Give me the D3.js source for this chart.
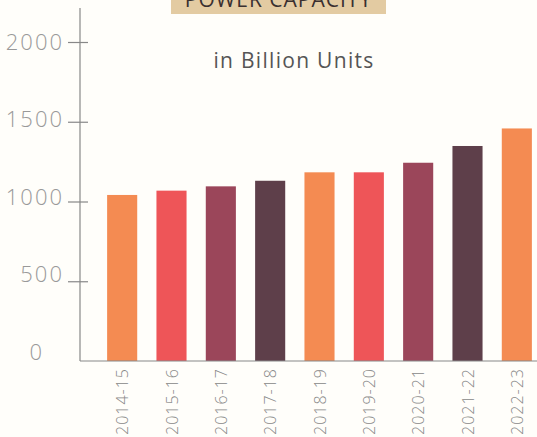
<!DOCTYPE html>
<html><head><meta charset="utf-8">
<script src="https://cdn.jsdelivr.net/npm/d3@7"></script>
<style>
html,body{margin:0;padding:0;background:#fffefa;}
svg{display:block;}
</style></head>
<body>
<svg id="chart" width="537" height="437"></svg>
<script>
const categories = ["2014-15","2015-16","2016-17","2017-18","2018-19","2019-20","2020-21","2021-22","2022-23"];
const values = [1041, 1068, 1095, 1130, 1183, 1183, 1243, 1348, 1458];
const barColors = ["#f48b52","#ee5558","#9b465a","#5e3f4a","#f48b52","#ee5558","#9b465a","#5e3f4a","#f48b52"];
const yTicks = [0, 500, 1000, 1500, 2000];
const titleText = "POWER CAPACITY";
const subtitleText = "in Billion Units";

const svg = d3.select("#chart");
const font = "'Open Sans', Lato, sans-serif";

const x = d3.scaleBand().domain(categories).range([97.5, 541.5]).paddingInner(0.39).paddingOuter(0.195);
const y = d3.scaleLinear().domain([0, 2000]).range([361, 42]);
const yLabel = d3.scaleLinear().domain([0, 2000]).range([352, 42]);

// title box
svg.append("rect").attr("x", 171).attr("y", -10).attr("width", 215).attr("height", 24).attr("fill", "#e3cba2");
svg.append("text").attr("x", 278.5).attr("y", 7).attr("text-anchor", "middle")
  .attr("font-family", font).attr("font-size", 21).attr("letter-spacing", 1).attr("fill", "#3a3030").text(titleText);

svg.append("text").attr("x", 294).attr("y", 68).attr("text-anchor", "middle")
  .attr("font-family", font).attr("font-size", 21).attr("letter-spacing", 1.3).attr("fill", "#555").text(subtitleText);

// bars
svg.append("g").selectAll("rect").data(values).join("rect")
  .attr("x", (d, i) => x(categories[i]))
  .attr("width", x.bandwidth())
  .attr("y", d => y(d))
  .attr("height", d => y(0) - y(d))
  .attr("fill", (d, i) => barColors[i]);

// y axis
const yAxis = svg.append("g").attr("transform", "translate(80,0)")
  .call(d3.axisLeft(y).tickValues(yTicks.filter(t => t > 0)).tickFormat("").tickSizeOuter(0));
yAxis.select(".domain").attr("stroke", "#888").attr("stroke-width", 1.2).attr("d", "M0," + (y(0)) + "V8");
yAxis.selectAll(".tick line").attr("x1", 8).attr("x2", -12).attr("stroke", "#888").attr("stroke-width", 1.2);

// y labels
svg.append("g").selectAll("text").data(yTicks).join("text")
  .attr("x", d => d === 0 ? 44 : 64)
  .attr("y", d => yLabel(d))
  .attr("dy", "0.36em")
  .attr("text-anchor", "end")
  .attr("letter-spacing", 2)
  .attr("font-family", font).attr("font-weight", 300).attr("font-size", 22).attr("fill", "#999")
  .text(d => d);

// x axis
const xAxis = svg.append("g").attr("transform", "translate(0," + y(0) + ")")
  .call(d3.axisBottom(x).tickSize(0).tickSizeOuter(0));
xAxis.select(".domain").attr("stroke", "#888").attr("stroke-width", 1.2).attr("d", "M80,0H537");
xAxis.selectAll(".tick text")
  .attr("transform", "rotate(-90)")
  .attr("text-anchor", "end")
  .attr("x", -7).attr("y", 0).attr("dy", "0.38em").attr("dx", 0)
  .attr("letter-spacing", 1)
  .attr("font-family", font).attr("font-weight", 300).attr("font-size", 16).attr("fill", "#888");
</script>
</body></html>
